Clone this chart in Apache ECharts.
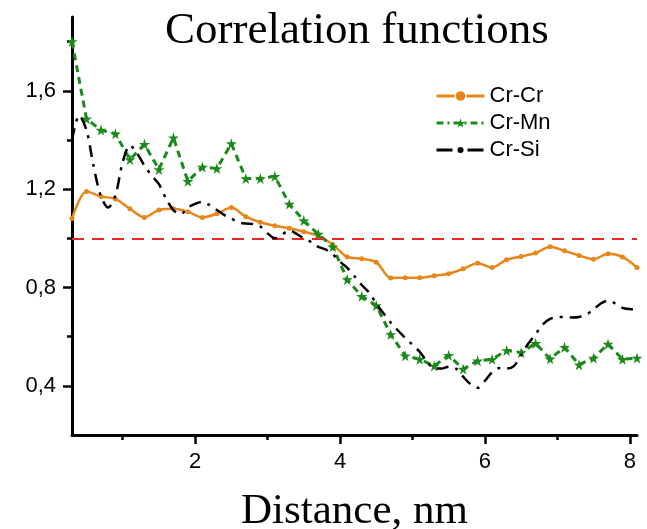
<!DOCTYPE html>
<html>
<head>
<meta charset="utf-8">
<script src="https://cdn.jsdelivr.net/npm/echarts@6/dist/echarts.min.js"></script>
<style>
html,body{margin:0;padding:0;background:#fff;}
#chart{width:647px;height:529px;}
</style>
</head>
<body>
<div id="chart"></div>
<script>
// distance grid (nm) for Cr-Cr and Cr-Mn
const distance = [0.3,0.5,0.7,0.9,1.1,1.3,1.5,1.7,1.9,2.1,2.3,2.5,2.7,2.9,3.1,3.3,3.5,3.7,3.9,4.1,4.3,4.5,4.7,4.9,5.1,5.3,5.5,5.7,5.9,6.1,6.3,6.5,6.7,6.9,7.1,7.3,7.5,7.7,7.9,8.1];
const crCr = [1.08,1.19,1.17,1.16,1.12,1.085,1.115,1.12,1.108,1.085,1.10,1.125,1.088,1.065,1.051,1.041,1.027,1.01,0.975,0.924,0.917,0.903,0.839,0.84,0.84,0.848,0.856,0.876,0.899,0.881,0.913,0.926,0.94,0.966,0.949,0.93,0.915,0.937,0.924,0.881];
const crMn = [1.80,1.486,1.44,1.425,1.32,1.382,1.28,1.409,1.232,1.29,1.284,1.385,1.243,1.243,1.252,1.139,1.072,1.017,0.966,0.832,0.764,0.727,0.609,0.522,0.508,0.481,0.524,0.468,0.502,0.508,0.544,0.535,0.573,0.51,0.557,0.486,0.513,0.57,0.508,0.513];
// finer distance grid for Cr-Si
const siDistance = [0.3,0.4,0.5,0.6,0.7,0.8,0.9,1.0,1.1,1.2,1.3,1.4,1.5,1.6,1.7,1.8,1.9,2.0,2.1,2.2,2.3,2.4,2.5,2.6,2.7,2.8,2.9,3.0,3.1,3.2,3.3,3.4,3.5,3.6,3.7,3.8,3.9,4.0,4.1,4.2,4.3,4.4,4.5,4.6,4.7,4.8,4.9,5.0,5.1,5.2,5.3,5.4,5.5,5.6,5.7,5.8,5.9,6.0,6.1,6.2,6.3,6.4,6.5,6.6,6.7,6.8,6.9,7.0,7.1,7.2,7.3,7.4,7.5,7.6,7.7,7.8,7.9,8.0,8.1];
const crSi = [1.40,1.50,1.44,1.29,1.17,1.125,1.175,1.31,1.378,1.345,1.295,1.255,1.22,1.16,1.115,1.098,1.125,1.14,1.148,1.135,1.115,1.095,1.08,1.065,1.06,1.058,1.048,1.02,1.0,1.015,1.032,1.018,1.0,0.985,0.965,0.955,0.935,0.905,0.88,0.845,0.81,0.78,0.735,0.695,0.657,0.625,0.595,0.567,0.538,0.50,0.47,0.47,0.478,0.47,0.437,0.407,0.392,0.42,0.455,0.472,0.47,0.48,0.525,0.572,0.61,0.65,0.672,0.68,0.68,0.678,0.68,0.69,0.71,0.735,0.746,0.735,0.717,0.712,0.71];
const seriesNames = ['Cr-Cr','Cr-Mn','Cr-Si'];
const referenceLevel = 1.0;
const xMajorTicks = [2,4,6,8];
const xMinorTicks = [1,3,5,7];
const yMajorTicks = [0.4,0.8,1.2,1.6];
const yMinorTicks = [0.6,1.0,1.4,1.8];

const STAR = 'path://M50,0 L61,35 L98,35 L68,57 L79,91 L50,70 L21,91 L32,57 L2,35 L39,35 Z';
const ORANGE = '#e8861a', GREEN = '#1a8a1a', RED = '#f02424';
const sans = 'Liberation Sans, Arial, sans-serif';
const serif = 'Liberation Serif, Times New Roman, serif';

const xMin = 0.3, xMax = 8.1, yMin = 0.2, yMax = 1.9;

const chart = echarts.init(document.getElementById('chart'), null, {renderer:'canvas'});
const commaFmt = v => String(v).replace('.', ',');

chart.setOption({
  animation:false,
  backgroundColor:'#fff',
  title:{
    text:'Correlation functions',
    left:160, top:4,
    textStyle:{fontFamily:serif, fontSize:45, fontWeight:'normal', color:'#000'}
  },
  legend:{
    orient:'vertical',
    left:430, top:80,
    itemWidth:48, itemHeight:12, itemGap:5,
    textStyle:{fontFamily:sans, fontSize:22, color:'#000'},
    data:[
      {name:seriesNames[0], lineStyle:{type:[18,12], width:3}},
      {name:seriesNames[1], lineStyle:{type:[7,4,2,4], width:3}},
      {name:seriesNames[2], lineStyle:{type:[16,6,3,6], width:3}, itemStyle:{color:'#000', borderColor:'#fff', borderWidth:3.5}}
    ]
  },
  grid:{left:72, right:10, top:17, bottom:94, containLabel:false, outerBoundsMode:'none'},
  xAxis:[{
    type:'value', min:xMin, max:xMax, position:'bottom',
    name:'Distance, nm', nameLocation:'middle', nameGap:55,
    nameTextStyle:{fontFamily:serif, fontSize:43, color:'#000'},
    axisLine:{show:true, onZero:false, lineStyle:{color:'#000', width:3}},
    axisTick:{show:true, inside:false, length:9, lineStyle:{color:'#000', width:2.5}, customValues:xMajorTicks},
    axisLabel:{show:true, margin:16, fontFamily:sans, fontSize:22, color:'#000', customValues:xMajorTicks, formatter:commaFmt},
    splitLine:{show:false}
  },{
    type:'value', min:xMin, max:xMax, position:'bottom',
    axisLine:{show:false, onZero:false},
    axisTick:{show:true, inside:false, length:5, lineStyle:{color:'#000', width:2.5}, customValues:xMinorTicks},
    axisLabel:{show:false},
    splitLine:{show:false}
  }],
  yAxis:[{
    type:'value', min:yMin, max:yMax, position:'left',
    axisLine:{show:true, onZero:false, lineStyle:{color:'#000', width:3}},
    axisTick:{show:true, inside:false, length:9, lineStyle:{color:'#000', width:2.5}, customValues:yMajorTicks},
    axisLabel:{show:true, margin:16, fontFamily:sans, fontSize:22, color:'#000', customValues:yMajorTicks, formatter:commaFmt},
    splitLine:{show:false}
  },{
    type:'value', min:yMin, max:yMax, position:'left',
    axisLine:{show:false, onZero:false},
    axisTick:{show:true, inside:false, length:5, lineStyle:{color:'#000', width:2.5}, customValues:yMinorTicks},
    axisLabel:{show:false},
    splitLine:{show:false}
  }],
  series:[
    {
      name:seriesNames[0], type:'line', smooth:0.3,
      data:distance.map((d,i)=>[d, crCr[i]]),
      symbol:'circle', symbolSize:5, showSymbol:true,
      lineStyle:{color:ORANGE, width:2.5, type:'solid'},
      itemStyle:{color:ORANGE},
      z:3,
      markLine:{
        silent:true, symbol:'none', label:{show:false},
        lineStyle:{color:RED, width:2, type:[12,8]},
        data:[{yAxis:referenceLevel}]
      }
    },
    {
      name:seriesNames[1], type:'line', smooth:false,
      data:distance.map((d,i)=>[d, crMn[i]]),
      symbol:STAR, symbolSize:11, showSymbol:true,
      lineStyle:{color:GREEN, width:3, type:[7,5]},
      itemStyle:{color:GREEN},
      z:4
    },
    {
      name:seriesNames[2], type:'line', smooth:0.3,
      data:siDistance.map((d,i)=>[d, crSi[i]]),
      symbol:'circle', showSymbol:false,
      lineStyle:{color:'#000', width:2.5, type:[12,7,3,7]},
      itemStyle:{color:'#000'},
      z:5
    }
  ]
});
</script>
</body>
</html>
